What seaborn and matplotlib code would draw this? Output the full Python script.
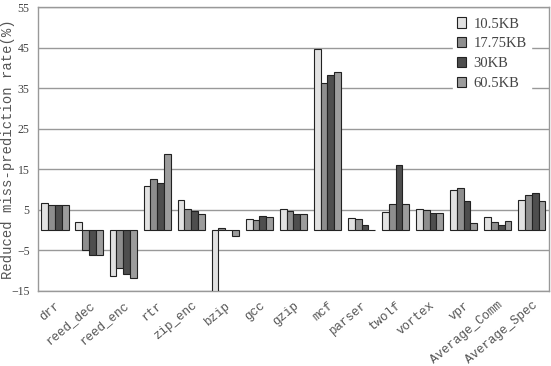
import numpy as np
import pandas as pd
import matplotlib
matplotlib.use("Agg")
import matplotlib.pyplot as plt
import matplotlib.transforms as mtransforms
import seaborn as sns

categories = ["drr", "reed_dec", "reed_enc", "rtr", "zip_enc", "bzip", "gcc",
              "gzip", "mcf", "parser", "twolf", "vortex", "vpr",
              "Average_Comm", "Average_Spec"]
series_names = ["10.5KB", "17.75KB", "30KB", "60.5KB"]
v_10_5 = [6.6, 2.0, -11.3, 11.0, 7.5, -15.0, 2.8, 5.3, 44.8, 3.0, 4.5, 5.3, 9.9, 3.2, 7.5]
v_17_75 = [6.3, -4.9, -9.3, 12.6, 5.3, 0.5, 2.5, 4.8, 36.4, 2.8, 6.4, 5.0, 10.4, 2.0, 8.7]
v_30 = [6.3, -6.1, -10.9, 11.7, 4.8, 0.1, 3.5, 4.1, 38.2, 1.3, 16.0, 4.2, 7.3, 1.2, 9.2]
v_60_5 = [6.3, -6.1, -11.9, 18.7, 4.0, -1.4, 3.3, 4.1, 39.1, 0.1, 6.4, 4.2, 1.7, 2.3, 7.1]
y_ticks = [-15, -5, 5, 15, 25, 35, 45, 55]

series_values = [v_10_5, v_17_75, v_30, v_60_5]
ncat = len(categories)

rows = []
for name, vals in zip(series_names, series_values):
    for c, v in zip(categories, vals):
        rows.append({"cat": c, "size": name, "val": v})
df = pd.DataFrame(rows)

sns.set_style("white")
plt.rcParams["font.family"] = ["Liberation Serif", "DejaVu Serif"]

fig = plt.figure(figsize=(5.51, 3.66), dpi=100)
ax = fig.add_axes([0.069, 0.205, 0.927, 0.775])

palette = ["#e2e2e2", "#8e8e8e", "#4e4e4e", "#9c9c9c"]
sns.barplot(data=df, x="cat", y="val", hue="size", order=categories,
            hue_order=series_names, palette=palette, width=0.8,
            edgecolor="#222222", linewidth=0.8, ax=ax, zorder=3, saturation=1)

grid_c = "#999999"
ax.set_ylim(-15, 55)
ax.set_yticks(y_ticks)
ax.set_xlim(-0.5, ncat - 0.5)
ax.yaxis.grid(True, color=grid_c, linewidth=1.0, zorder=0)
ax.set_axisbelow(True)
for s in ax.spines.values():
    s.set_color(grid_c)
    s.set_linewidth(1.0)

ax.set_xticks(np.arange(ncat))
ax.set_xticklabels(categories, rotation=40, ha="right", va="top",
                   rotation_mode="anchor",
                   family="Liberation Mono", fontsize=9, color="#555555")
offset = mtransforms.ScaledTranslation(2 / 72, 0, fig.dpi_scale_trans)
for lab in ax.get_xticklabels():
    lab.set_transform(lab.get_transform() + offset)
ax.set_xticks(np.arange(ncat + 1) - 0.5, minor=True)
ax.tick_params(axis="x", which="major", length=0, pad=6)
ax.tick_params(axis="x", which="minor", length=4, color=grid_c, width=1.0, direction="out")
ax.tick_params(axis="y", length=4, color=grid_c, width=1.0, direction="out",
               labelsize=8.5, labelcolor="#444444", pad=2)
ax.set_xlabel("")
ax.set_ylabel("Reduced miss-prediction rate(%)", family="Liberation Mono",
              fontsize=10, color="#555555")
ax.yaxis.set_label_coords(-0.046, 0.5)

leg = ax.legend(loc="upper right", bbox_to_anchor=(0.965, 0.98), frameon=True,
                fontsize=10.5, handlelength=0.6, handleheight=0.7,
                handletextpad=0.5, labelspacing=0.45, borderpad=0.3,
                borderaxespad=0.0)
leg.get_frame().set_edgecolor("white")
leg.get_frame().set_facecolor("white")
leg.get_frame().set_alpha(1)
for t in leg.get_texts():
    t.set_color("#444444")

fig.savefig("out.png", dpi=100)
